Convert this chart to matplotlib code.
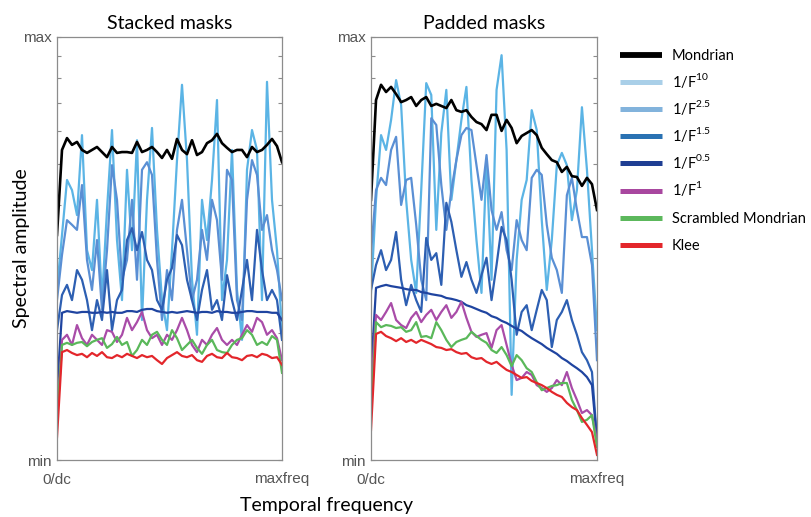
import numpy as np
import matplotlib
matplotlib.use("Agg")
import matplotlib.pyplot as plt
from matplotlib.lines import Line2D

# log-amplitude, as % of the min..max range (one decade), 46 samples from dc to maxfreq
# ---- Stacked masks ----
stacked_mondrian = [53.2, 73.3, 76.1, 74.5, 75.2, 73.3, 72.6, 73.3, 74.0, 72.8, 71.6, 74.0,
                    72.6, 72.8, 72.8, 72.6, 75.2, 72.8, 73.3, 74.0, 72.8, 71.4, 73.3, 71.2,
                    75.9, 73.3, 72.3, 75.6, 72.1, 72.8, 74.9, 75.6, 77.1, 74.9, 73.8, 72.8,
                    73.3, 73.3, 71.6, 74.0, 72.8, 73.3, 74.5, 75.9, 74.2, 70.4]
stacked_f10 = [40.2, 53.2, 66.2, 63.8, 57.9, 76.8, 49.6, 44.9, 61.5, 37.8, 59.1, 78.0,
               52.0, 37.8, 68.6, 49.6, 75.6, 33.1, 61.5, 78.5, 54.4, 37.8, 30.7, 49.6,
               70.9, 88.7, 70.9, 42.6, 29.6, 61.5, 52.0, 66.2, 85.1, 37.8, 47.3, 73.3,
               40.2, 28.4, 68.6, 78.0, 73.3, 37.8, 89.4, 61.5, 49.6, 30.7]
stacked_f25 = [37.8, 48.5, 56.7, 55.6, 54.4, 65.0, 47.3, 40.2, 52.0, 35.5, 49.6, 69.7,
               61.5, 42.6, 47.3, 61.5, 42.6, 68.6, 70.4, 67.4, 47.3, 33.1, 44.9, 37.8,
               54.4, 61.5, 49.6, 37.8, 42.6, 54.4, 47.3, 61.5, 56.7, 42.6, 68.6, 66.2,
               37.8, 33.1, 61.5, 70.9, 67.4, 54.4, 57.9, 49.6, 44.9, 37.8]
stacked_f15 = [30.7, 39.0, 41.4, 37.8, 44.9, 42.6, 37.8, 30.7, 37.8, 33.1, 44.9, 30.7,
               37.8, 40.2, 52.0, 54.8, 49.6, 53.9, 47.3, 44.9, 37.8, 35.5, 42.6, 45.4,
               53.2, 50.8, 42.6, 37.8, 33.1, 40.2, 44.9, 35.5, 37.8, 33.1, 43.7, 37.8,
               33.1, 40.2, 47.3, 37.8, 54.4, 44.9, 37.8, 40.2, 37.8, 28.4]
stacked_f05 = [16.5, 34.8, 35.2, 35.0, 34.8, 35.0, 35.0, 34.8, 34.8, 35.0, 34.8, 35.0,
               34.8, 34.8, 35.2, 35.2, 35.0, 35.5, 35.7, 35.7, 35.2, 35.0, 34.8, 35.0,
               34.8, 35.0, 35.2, 35.0, 34.8, 35.0, 35.0, 34.8, 35.2, 35.0, 35.0, 34.8,
               34.8, 35.0, 35.2, 35.2, 35.0, 35.0, 35.0, 34.8, 34.8, 33.1]
stacked_f1 = [9.5, 28.4, 29.6, 27.2, 31.9, 28.8, 27.2, 29.6, 28.4, 27.2, 30.7, 30.3,
              27.9, 29.6, 33.6, 30.7, 32.6, 35.0, 30.7, 28.8, 29.6, 27.2, 29.6, 28.4,
              30.7, 33.6, 30.7, 27.2, 25.5, 28.4, 27.2, 29.6, 31.2, 28.4, 27.2, 28.4,
              27.2, 29.6, 31.9, 30.3, 33.6, 32.6, 29.6, 30.7, 28.8, 23.6]
stacked_scrambled = [9.5, 27.2, 27.7, 27.2, 27.7, 27.9, 26.9, 27.9, 28.4, 28.8, 26.5, 27.4,
                     29.1, 27.2, 27.9, 24.6, 26.0, 28.4, 27.2, 29.6, 30.3, 28.4, 27.2, 30.7,
                     28.8, 26.0, 27.2, 28.4, 26.5, 25.1, 27.2, 28.4, 26.0, 25.5, 25.3, 27.2,
                     28.4, 28.8, 30.7, 29.6, 27.2, 27.9, 27.2, 29.3, 28.4, 20.6]
stacked_klee = [5.4, 25.5, 26.0, 25.3, 24.8, 25.1, 24.3, 25.3, 24.6, 25.5, 24.3, 24.1,
                24.8, 24.3, 25.1, 24.6, 24.1, 24.8, 24.3, 24.6, 23.6, 22.7, 24.1, 24.8,
                25.5, 24.6, 24.3, 24.8, 23.6, 23.2, 24.6, 25.1, 24.3, 24.1, 25.3, 24.3,
                24.1, 23.6, 24.6, 24.8, 24.3, 25.1, 24.8, 24.1, 24.3, 22.5]

# ---- Padded masks ----
padded_mondrian = [61.5, 85.1, 88.7, 87.0, 88.2, 86.5, 84.6, 85.1, 85.8, 83.7, 85.1, 85.8,
                   83.7, 84.2, 83.7, 83.2, 85.1, 82.7, 82.3, 82.7, 81.1, 79.9, 79.4, 78.0,
                   81.6, 81.6, 77.8, 80.4, 78.5, 74.9, 76.6, 77.3, 78.0, 76.8, 73.8, 72.3,
                   70.9, 70.4, 68.1, 69.3, 67.1, 66.9, 64.8, 66.7, 65.2, 59.1]
padded_f10 = [39.5, 61.5, 76.8, 73.3, 80.4, 89.8, 83.9, 61.5, 47.3, 39.5, 63.8, 89.1,
              86.3, 54.4, 77.3, 87.5, 61.5, 70.9, 80.4, 88.2, 66.2, 52.0, 39.5, 70.9,
              42.6, 87.5, 95.7, 73.3, 15.4, 47.3, 61.5, 66.2, 82.7, 78.0, 56.7, 40.2,
              52.0, 69.7, 72.6, 69.7, 56.7, 63.8, 83.4, 68.6, 49.6, 30.7]
padded_f25 = [48.9, 63.8, 66.7, 65.0, 73.3, 76.4, 60.3, 66.2, 66.7, 55.6, 42.6, 37.8,
              80.8, 79.2, 65.0, 54.4, 63.8, 70.9, 76.8, 78.5, 78.0, 69.7, 61.5, 72.1,
              59.1, 54.4, 58.6, 49.6, 44.9, 56.7, 52.0, 49.6, 66.7, 68.6, 67.4, 55.6,
              47.8, 44.9, 39.5, 62.6, 66.7, 59.1, 52.7, 52.7, 46.1, 23.6]
padded_f15 = [40.2, 46.1, 49.6, 44.9, 47.3, 53.9, 42.6, 36.6, 41.4, 37.8, 35.0, 52.5,
              47.3, 48.9, 41.4, 60.8, 56.3, 49.6, 43.3, 46.8, 42.6, 39.5, 43.7, 47.8,
              37.8, 46.1, 55.1, 52.0, 42.6, 29.6, 35.0, 36.6, 30.7, 35.5, 40.2, 37.8,
              26.7, 33.1, 35.0, 37.8, 33.1, 29.6, 25.5, 23.6, 20.8, 4.7]
padded_f05 = [20.6, 40.7, 41.1, 41.4, 41.1, 40.9, 40.7, 40.4, 40.2, 40.2, 39.7, 39.5,
              39.2, 39.0, 38.8, 38.3, 38.1, 37.8, 37.4, 36.6, 36.2, 35.7, 35.2, 34.8,
              34.0, 33.6, 32.9, 32.4, 31.7, 31.0, 30.5, 29.6, 28.8, 28.1, 27.4, 26.5,
              25.8, 25.1, 24.1, 23.4, 22.5, 21.7, 20.8, 19.6, 17.7, 4.7]
padded_f1 = [16.5, 34.3, 33.1, 35.0, 37.1, 33.1, 31.9, 31.2, 33.6, 35.0, 32.6, 34.3,
             35.5, 33.1, 35.0, 36.6, 33.6, 35.0, 37.4, 33.6, 30.3, 29.1, 29.6, 30.0,
             26.5, 30.7, 31.9, 27.2, 22.5, 18.9, 19.4, 20.8, 20.1, 17.7, 17.0, 16.1,
             17.0, 18.9, 17.7, 20.8, 17.0, 14.2, 11.1, 11.8, 10.6, 4.7]
padded_scrambled = [11.1, 32.6, 31.4, 31.9, 31.7, 31.2, 31.4, 30.3, 30.7, 32.6, 29.1, 29.3,
                    28.8, 32.6, 30.7, 28.4, 26.7, 27.9, 28.4, 28.8, 30.3, 29.3, 28.4, 27.7,
                    26.0, 25.3, 26.7, 24.8, 22.2, 24.8, 23.6, 21.7, 20.8, 18.4, 16.5, 17.0,
                    17.5, 17.7, 18.2, 18.2, 14.2, 11.8, 9.0, 9.5, 10.6, 3.1]
padded_klee = [7.1, 29.8, 30.3, 29.3, 28.8, 28.1, 28.8, 27.9, 28.4, 27.7, 28.4, 27.9,
               27.4, 26.7, 26.5, 26.0, 26.2, 25.5, 25.1, 25.3, 24.3, 23.9, 24.1, 23.2,
               22.7, 23.2, 22.2, 21.3, 20.8, 20.1, 19.4, 19.6, 18.7, 18.2, 17.7, 17.0,
               16.1, 15.4, 14.9, 13.5, 12.5, 11.8, 9.9, 8.3, 6.6, 1.2]

# plot colours and legend swatch colours
line_colors = ["#000000", "#5bb4e5", "#5a8fd4", "#2d5fb2", "#1f44a0", "#a94ca8",
               "#5ab85a", "#e3262b"]
legend_colors = ["#000000", "#a9cfe8", "#82b3dc", "#2a72b3", "#1f3e93", "#a8479f",
                 "#5cb85c", "#e3262b"]
legend_labels = ["Mondrian", r"1/F$^{\mathregular{10}}$", r"1/F$^{\mathregular{2.5}}$",
                 r"1/F$^{\mathregular{1.5}}$", r"1/F$^{\mathregular{0.5}}$",
                 r"1/F$^{\mathregular{1}}$", "Scrambled Mondrian", "Klee"]

panels = {
    "Stacked masks": [stacked_mondrian, stacked_f10, stacked_f25, stacked_f15,
                      stacked_f05, stacked_f1, stacked_scrambled, stacked_klee],
    "Padded masks": [padded_mondrian, padded_f10, padded_f25, padded_f15,
                     padded_f05, padded_f1, padded_scrambled, padded_klee],
}

plt.rcParams["font.family"] = ["Lato", "DejaVu Sans"]
plt.rcParams["mathtext.fontset"] = "custom"
plt.rcParams["mathtext.rm"] = "Lato"

W, H = 811, 517
fig = plt.figure(figsize=(W / 100, H / 100), dpi=100)
axes_rects = [[57 / W, 57 / H, 225 / W, 423 / H],
              [371 / W, 57 / H, 226 / W, 423 / H]]

# draw order: blues first, then the rest, Mondrian on top
draw_order = [1, 2, 3, 4, 5, 6, 7, 0]
tick_pos = 100 * np.log10(np.arange(1, 11))

for rect, (title, data) in zip(axes_rects, panels.items()):
    ax = fig.add_axes(rect)
    freq = np.linspace(0, 1, len(data[0]))
    for i in draw_order:
        ax.plot(freq, data[i], color=line_colors[i], lw=1.9 if i == 0 else 1.6,
                solid_joinstyle="round")
    ax.set_xlim(0, 1)
    ax.set_ylim(0, 100)
    ax.set_title(title, fontsize=14, pad=6)
    for sp in ax.spines.values():
        sp.set_color("#8c8c8c")
        sp.set_linewidth(0.9)
    ax.set_yticks(tick_pos)
    ax.set_yticklabels(["min"] + [""] * 8 + ["max"])
    ax.set_xticks([0, 1])
    ax.set_xticklabels(["0/dc", "maxfreq"])
    ax.tick_params(axis="y", direction="in", length=3, color="#8c8c8c", right=True,
                   labelsize=11, labelcolor="#555555", pad=4)
    ax.tick_params(axis="x", length=0, labelsize=11, labelcolor="#555555", pad=9)
    for lab in ax.get_yticklabels() + ax.get_xticklabels():
        lab.set_fontfamily(["Liberation Sans", "DejaVu Sans"])

fig.text(22 / W, 1 - 248 / H, "Spectral amplitude", rotation=90, fontsize=14,
         ha="center", va="center")
fig.text(327 / W, 1 - 505 / H, "Temporal frequency", fontsize=14,
         ha="center", va="center")

# legend drawn by hand so every row has the same height
row_top, row_step = 55, 27.1
for k, (c, lab) in enumerate(zip(legend_colors, legend_labels)):
    yy = 1 - (row_top + k * row_step) / H
    fig.add_artist(Line2D([620 / W, 662 / W], [yy, yy], color=c,
                          lw=4.2 if k == 0 else 3.6, solid_capstyle="butt"))
    fig.text(672 / W, yy - 5 / H, lab, fontsize=10.5, ha="left", va="baseline")

fig.savefig("out.png", dpi=100)
